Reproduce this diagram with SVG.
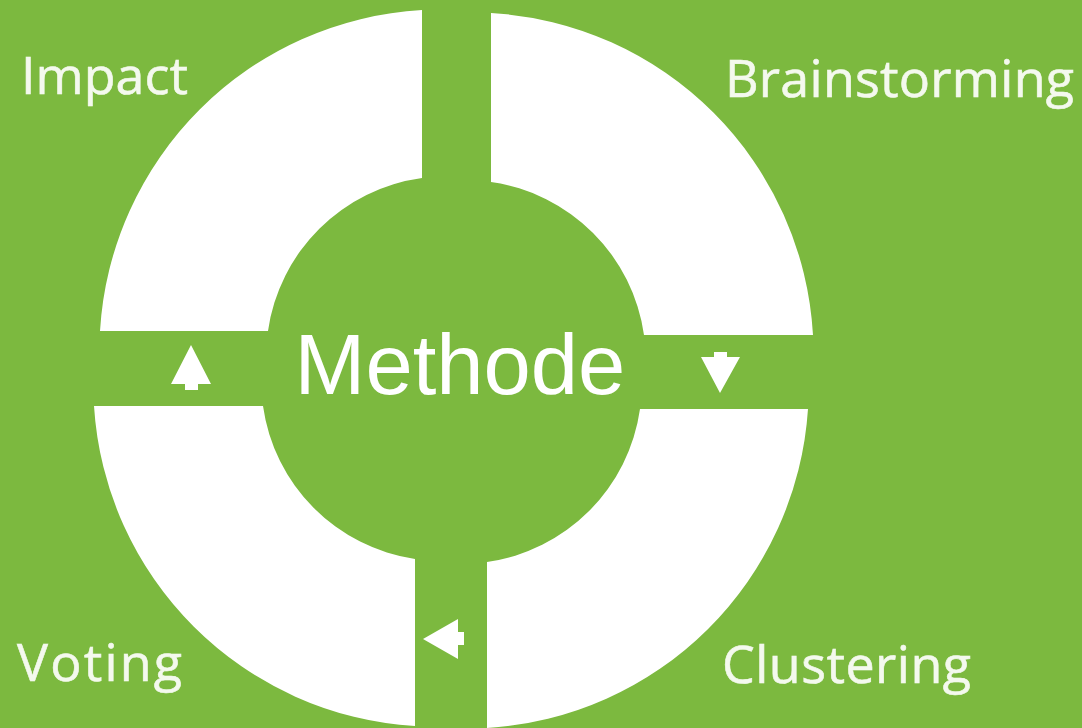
<svg xmlns="http://www.w3.org/2000/svg" width="1082" height="728" viewBox="0 0 1082 728">
<style>
.seg{fill:#fff}
.lab{fill:#f4f9ee;font-family:"Open Sans","Noto Sans",sans-serif;font-size:52px;stroke:#f4f9ee;stroke-width:.6px}
.arr{fill:#fff}
</style>
<rect width="1082" height="728" fill="#7cb93f"/>
<g id="segment-impact"><path class="seg" d="M422 10A342 342 0 0 0 100 331L268 331A180 180 0 0 1 422 178Z"/></g>
<g id="segment-brainstorming"><path class="seg" d="M491 13A342 342 0 0 1 813 335L644 335A180 180 0 0 0 491 182Z"/></g>
<g id="segment-clustering"><path class="seg" d="M808 409A342 342 0 0 1 487 728L487 562A180 180 0 0 0 640 409Z"/></g>
<g id="segment-voting"><path class="seg" d="M94 406A342 342 0 0 0 415 726L415 559A180 180 0 0 1 263 406Z"/></g>
<g id="connectors">
<path class="arr" d="M191 345L211 384L198 384L198 390L185 390L185 384L171 384Z"/>
<path class="arr" d="M720 393L701 357L714 357L714 352L727 352L727 357L740 357Z"/>
<path class="arr" d="M423 639L458 619L458 632L464 632L464 645L458 645L458 659Z"/>
</g>
<g id="center"><text x="460" y="394" font-family="'Liberation Sans',Arial,sans-serif" font-size="85" fill="#fff" text-anchor="middle">Methode</text></g>
<g id="label-impact"><text class="lab" x="21" y="94" textLength="167">Impact</text></g>
<g id="label-brainstorming"><text class="lab" x="725" y="97" textLength="349">Brainstorming</text></g>
<g id="label-voting"><text class="lab" x="17" y="681" textLength="165">Voting</text></g>
<g id="label-clustering"><text class="lab" x="722" y="683" textLength="249">Clustering</text></g>
</svg>
